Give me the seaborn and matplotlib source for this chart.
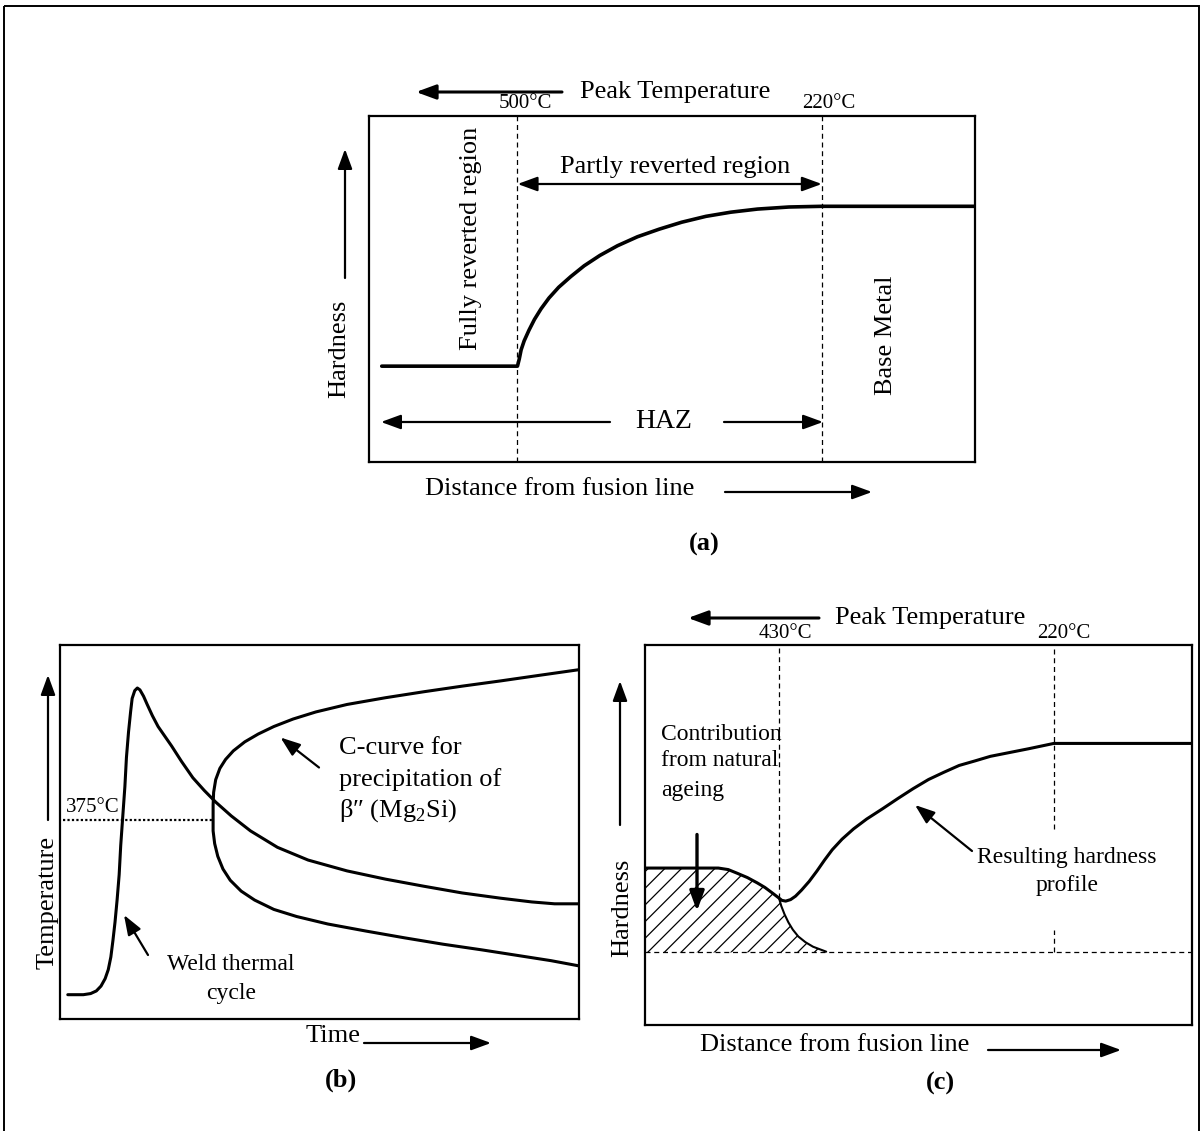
import matplotlib
matplotlib.use("Agg")
import matplotlib.pyplot as plt
from matplotlib.patches import Rectangle
import seaborn as sns

W, H = 1202, 1131

# ---- (a) hardness profile, distance / hardness on a 0-100 schematic scale ----
a_dist = [2.1, 24.5, 24.8, 25.1, 25.6, 26.4, 27.3, 28.4, 29.7, 31.3, 33.3, 35.5, 38.1,
          41.0, 44.3, 47.9, 51.6, 55.6, 59.7, 64.1, 69.3, 74.7, 100]
a_hard = [27.7, 27.7, 29.8, 32.4, 35.0, 38.1, 41.2, 44.3, 47.4, 50.5, 53.6, 56.7, 59.7,
          62.5, 65.1, 67.3, 69.3, 71.0, 72.2, 73.1, 73.7, 73.9, 73.9]
a_limits = [24.5, 74.7]
a_limit_labels = ["500°C", "220°C"]

# ---- (b) weld thermal cycle and C-curve, time / temperature ----
b_weld_time = [1.5, 4.5, 5.9, 7.0, 7.9, 8.7, 9.3, 9.8, 10.2, 10.6, 11.0, 11.4, 11.7,
               12.1, 12.5, 12.8, 13.2, 13.6, 13.9, 14.4, 14.9, 15.4, 16.1, 16.8, 17.8,
               18.9, 20.0, 21.5, 23.4, 25.6, 27.8, 30.0, 33.0, 36.7, 41.9, 47.8, 55.3,
               62.7, 70.1, 77.5, 84.9, 90.9, 95.3, 100]
b_weld_temp = [6.5, 6.5, 6.8, 7.5, 8.8, 10.8, 13.2, 16.6, 21.0, 25.9, 31.8, 38.6, 46.4,
               54.3, 62.1, 69.9, 76.7, 82.1, 85.7, 87.8, 88.5, 88.0, 86.3, 84.1, 81.1,
               78.2, 76.0, 73.0, 68.9, 64.5, 61.1, 58.0, 54.3, 50.3, 45.9, 42.5, 39.6,
               37.4, 35.5, 33.7, 32.3, 31.3, 30.8, 30.8]
b_c_time = [100, 92.4, 84.9, 77.5, 70.1, 62.7, 55.3, 49.3, 44.9, 41.2, 38.2, 35.6, 33.4,
            31.9, 30.8, 30.0, 29.6, 29.5, 29.5, 29.5, 29.8, 30.4, 31.4, 32.8, 34.9, 37.5,
            41.2, 45.6, 51.6, 59.0, 66.4, 73.8, 81.2, 88.6, 94.6, 100]
b_c_temp = [93.4, 91.9, 90.4, 89.0, 87.5, 85.9, 84.1, 82.1, 80.2, 78.2, 76.2, 74.1, 71.7,
            69.4, 67.0, 64.0, 60.6, 57.2, 53.8, 50.3, 46.9, 43.5, 40.1, 37.1, 34.2, 31.8,
            29.3, 27.4, 25.4, 23.5, 21.7, 20.0, 18.5, 16.9, 15.6, 14.2]
b_nose_temp = 53.1
b_nose_label = "375°C"

# ---- (c) resulting hardness with natural ageing ----
c_dist = [0, 13.5, 15.3, 17.0, 18.8, 20.6, 22.0, 23.4, 24.4, 25.1, 25.8, 26.7, 27.6,
          28.7, 30.1, 31.5, 32.9, 34.3, 36.1, 38.2, 40.6, 43.5, 46.3, 49.1, 51.9, 54.7,
          57.5, 60.4, 63.2, 66.7, 70.2, 74.8, 100]
c_hard = [41.3, 41.3, 40.9, 39.9, 38.8, 37.4, 36.2, 34.7, 33.6, 32.8, 32.6, 33.0, 33.9,
          35.5, 37.8, 40.5, 43.4, 46.1, 48.9, 51.6, 54.2, 56.9, 59.6, 62.2, 64.6, 66.5,
          68.3, 69.5, 70.7, 71.7, 72.7, 74.1, 74.1]
ageing_dist = [0, 13.5, 15.3, 17.0, 18.8, 20.6, 22.0, 23.4, 24.6, 25.0, 25.6, 26.3,
               27.1, 28.1, 29.4, 30.8, 33.2]
ageing_top = [41.3, 41.3, 40.9, 39.9, 38.8, 37.4, 36.2, 34.7, 33.3, 31.3, 29.1, 27.0,
              25.1, 23.3, 21.8, 20.6, 19.3]
c_base = 19.1
c_limits = [24.6, 74.8]
c_limit_labels = ["430°C", "220°C"]

sns.set_theme(style="white")
plt.rcParams["font.family"] = ["Liberation Serif", "DejaVu Serif"]
plt.rcParams["mathtext.fontset"] = "custom"
plt.rcParams["mathtext.rm"] = "Liberation Serif"
plt.rcParams["hatch.linewidth"] = 0.9

fig = plt.figure(figsize=(W / 100, H / 100), dpi=100)


def panel(left, top, right, bottom):
    ax = fig.add_axes([left / W, 1 - bottom / H, (right - left) / W, (bottom - top) / H])
    ax.set_xlim(0, 100)
    ax.set_ylim(0, 100)
    ax.set_xticks([])
    ax.set_yticks([])
    for s in ax.spines.values():
        s.set_visible(True)
        s.set_color("black")
        s.set_linewidth(1.6)
    return ax


def curve(ax, x, y, lw):
    sns.lineplot(x=x, y=y, ax=ax, color="black", linewidth=lw, sort=False, estimator=None)
    ax.set_xlabel("")
    ax.set_ylabel("")


# panel (a)
ax_a = panel(369, 116, 975, 462)
ax_a.vlines(a_limits, 0, 100, colors="black", linewidth=0.9, linestyles=(0, (4, 3)))
curve(ax_a, a_dist, a_hard, 2.6)

# panel (b)
ax_b = panel(60, 645, 579, 1019)
ax_b.hlines(b_nose_temp, 0.5, 29.5, colors="black", linewidth=1.6, linestyles=(0, (1, 1)))
curve(ax_b, b_weld_time, b_weld_temp, 2.2)
curve(ax_b, b_c_time, b_c_temp, 2.2)

# panel (c)
ax_c = panel(644.5, 645, 1191.7, 1025)
ax_c.fill_between(ageing_dist, c_base, ageing_top, facecolor="none", edgecolor="black",
                  hatch="//", linewidth=0)
ax_c.axhline(c_base, color="black", linewidth=0.9, linestyle=(0, (4, 3)))
ax_c.vlines(c_limits[0], 33.3, 100, colors="black", linewidth=0.9, linestyles=(0, (4, 3)))
ax_c.vlines([c_limits[1], c_limits[1]], [c_base, 51.6], [25.1, 100], colors="black",
            linewidth=0.9, linestyles=(0, (4, 3)))
curve(ax_c, ageing_dist[8:], ageing_top[8:], 1.5)
curve(ax_c, c_dist, c_hard, 2.2)

# overlay in reference pixels for labels and arrows
ov = fig.add_axes([0, 0, 1, 1])
ov.set_xlim(0, W)
ov.set_ylim(H, 0)
ov.axis("off")
ov.add_patch(Rectangle((4, 6), 1195, 1200, fill=False, edgecolor="black", linewidth=1.4))


def label(x, y, s, size=19, **kw):
    ov.text(x, y, s, fontsize=size, color="black", ha=kw.pop("ha", "center"),
            va=kw.pop("va", "center"), **kw)


def arrow(x0, y0, x1, y1, style="-|>", lw=1.6, scale=20):
    ov.annotate("", xy=(x1, y1), xytext=(x0, y0),
                arrowprops=dict(arrowstyle=style + ",head_length=0.6,head_width=0.22",
                                color="black", lw=lw, shrinkA=0, shrinkB=0,
                                mutation_scale=scale))


# (a) texts
label(580, 92, "Peak Temperature", ha="left")
arrow(562, 92, 416, 92, lw=2.2)
label(525, 104, a_limit_labels[0], size=15)
label(829, 104, a_limit_labels[1], size=15)
label(675, 167, "Partly reverted region")
arrow(517.6, 184, 821.8, 184, style="<|-|>")
label(470.5, 238, "Fully reverted region", rotation=90)
label(885.6, 335, "Base Metal", rotation=90)
label(664, 421, "HAZ", size=20)
arrow(610, 422, 381, 422)
arrow(724, 422, 823, 422)
label(339.5, 349, "Hardness", rotation=90)
arrow(345, 278, 345, 149)
label(560, 489, "Distance from fusion line")
arrow(725, 492, 872, 492)
label(704, 544, "(a)", weight="bold")

# (b) texts
label(65.5, 808, b_nose_label, size=15, ha="left")
label(48, 902, "Temperature", rotation=90)
arrow(48, 820, 48, 675)
arrow(319, 767.5, 280.5, 737.5)
label(339, 748.5, "C-curve for", ha="left")
label(339, 779.6, "precipitation of", ha="left")
label(339, 810.7, r"β″ (Mg$_2$Si)", ha="left")
arrow(148, 955, 124, 915)
label(231, 964, "Weld thermal", size=17)
label(231, 994, "cycle", size=17)
label(306, 1036, "Time", ha="left")
arrow(364, 1043, 491, 1043)
label(341, 1080, "(b)", weight="bold")

# (c) texts
label(835, 618, "Peak Temperature", ha="left")
arrow(819, 618, 688, 618, lw=2.2)
label(785, 634, c_limit_labels[0], size=15)
label(1064, 634, c_limit_labels[1], size=15)
label(622, 908, "Hardness", rotation=90)
arrow(620, 825, 620, 681)
label(660.7, 735, "Contribution", size=17, ha="left")
label(660.7, 761, "from natural", size=17, ha="left")
label(660.7, 790.6, "ageing", size=17, ha="left")
arrow(697, 834.5, 697, 911, lw=2.4)
arrow(972, 851, 915, 805)
label(1067, 857, "Resulting hardness", size=17)
label(1067, 886, "profile", size=17)
label(835, 1045, "Distance from fusion line")
arrow(988, 1050, 1121, 1050)
label(940, 1083, "(c)", weight="bold")

fig.savefig("out.png", dpi=100, facecolor="white")
